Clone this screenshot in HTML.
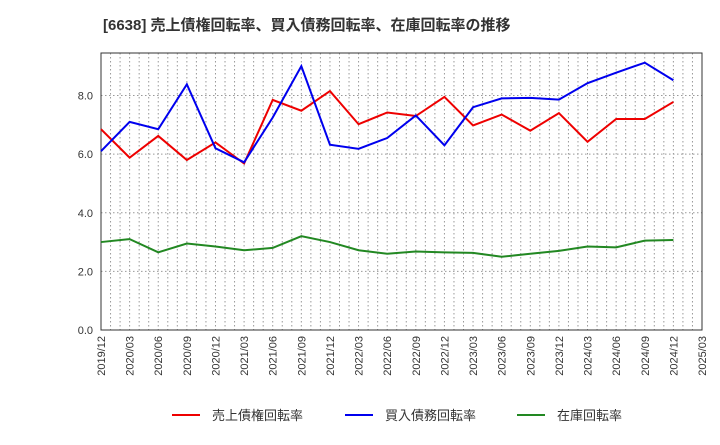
<!DOCTYPE html>
<html><head><meta charset="utf-8"><style>
body{margin:0;background:#fff;font-family:"Liberation Sans","Noto Sans CJK JP",sans-serif}
</style></head><body>
<svg width="720" height="440" xmlns="http://www.w3.org/2000/svg">
<text x="103" y="30" font-size="15" font-weight="bold" fill="#333" font-family="Liberation Sans, Noto Sans CJK JP, sans-serif">[6638]  売上債権回転率、買入債務回転率、在庫回転率の推移</text>
<g id="grid"></g><g id="axes"></g><g id="series"></g><g id="legend"></g>
</svg>
<script>
const xLabels=["2019/12","2020/03","2020/06","2020/09","2020/12","2021/03","2021/06","2021/09","2021/12","2022/03","2022/06","2022/09","2022/12","2023/03","2023/06","2023/09","2023/12","2024/03","2024/06","2024/09","2024/12","2025/03"];
const yTicks=[0,2,4,6,8];
const receivables=[6.85,5.88,6.62,5.8,6.4,5.68,7.85,7.48,8.15,7.02,7.42,7.3,7.95,6.98,7.35,6.8,7.4,6.42,7.2,7.2,7.78];
const payables=[6.1,7.1,6.85,8.38,6.2,5.72,7.25,9.0,6.32,6.18,6.55,7.32,6.3,7.6,7.9,7.92,7.86,8.42,8.78,9.12,8.52];
const inventory=[3.0,3.1,2.65,2.95,2.85,2.72,2.8,3.2,3.0,2.72,2.6,2.68,2.65,2.63,2.5,2.6,2.7,2.85,2.82,3.05,3.07];
const names=["売上債権回転率","買入債務回転率","在庫回転率"];
const colors=["#ee0000","#0000ee","#228822"];
const L=101,R=702,T=53,B=330,ymax=9.45;
const NS="http://www.w3.org/2000/svg";
const xs=i=>L+(R-L)*i/(xLabels.length-1);
const ys=v=>B-(B-T)*v/ymax;
function mk(tag,attrs,parent){const e=document.createElementNS(NS,tag);for(const k in attrs)e.setAttribute(k,attrs[k]);document.getElementById(parent).appendChild(e);return e;}
const nMonths=(xLabels.length-1)*3;
for(let m=1;m<nMonths;m++){const x=L+(R-L)*m/nMonths;
const g=mk("line",{x1:x,x2:x,y1:T,y2:B,stroke:"#999","stroke-dasharray":"1.5,2.5","stroke-width":1},"grid");

}
yTicks.forEach(v=>{const y=ys(v);
if(v>0){const g=mk("line",{x1:L,x2:R,y1:y,y2:y,stroke:"#999","stroke-dasharray":"1.5,2.5"},"grid");

}
const t=mk("text",{x:L-8,y:y+4,"text-anchor":"end","font-size":11,fill:"#333"},"axes");t.textContent=v.toFixed(1);

});
const fr=mk("rect",{x:L,y:T,width:R-L,height:B-T,fill:"none",stroke:"#333"},"axes");


xLabels.forEach((l,i)=>{const x=xs(i);const t=mk("text",{x:x+4,y:B+6,"text-anchor":"end","font-size":11,fill:"#333",transform:`rotate(-90 ${x+4} ${B+6})`},"axes");t.textContent=l;

});
[receivables,payables,inventory].forEach((s,k)=>{
const p=mk("polyline",{points:s.map((v,i)=>xs(i)+","+ys(v)).join(" "),fill:"none",stroke:colors[k],"stroke-width":2},"series");

});
const lx=[172,345,517];
names.forEach((n,k)=>{
const l=mk("line",{x1:lx[k],x2:lx[k]+28,y1:415,y2:415,stroke:colors[k],"stroke-width":2},"legend");


const t=mk("text",{x:lx[k]+40,y:420,"font-size":13,fill:"#333"},"legend");t.textContent=n;

});
</script>
</body></html>
